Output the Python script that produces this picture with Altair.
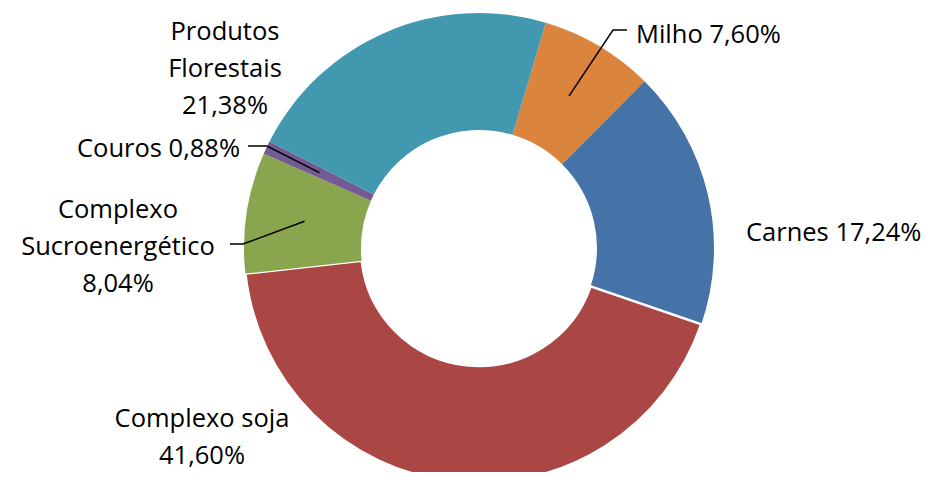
import math
import altair as alt
import pandas as pd

# ---- data ----
categories = ["Milho", "Carnes", "Complexo soja", "Complexo Sucroenergético", "Couros", "Produtos Florestais"]
values = [7.60, 17.24, 41.60, 8.04, 0.88, 21.38]
label_names = ["Milho", "Carnes", "Complexo soja", "Complexo\nSucroenergético", "Couros", "Produtos\nFlorestais"]
label_sep = [" ", " ", "\n", "\n", " ", "\n"]
colors = ["#DB843D", "#4572A7", "#AA4643", "#89A54E", "#735A92", "#4198AF"]

# ---- layout (page pixels) ----
W, H = 914, 464
M = 8
CX, CY = 479, 248
R_OUT, R_IN = 235, 118
START_DEG = 16.5
label_x = [636, 746, 202, 118, 240, 225]
label_y = [42.5, 241, 426.5, 218, 157, 40]
label_align = ["left", "left", "center", "center", "right", "center"]
# leader elbows / ends (None for no leader)
leader_elbow = [(613, 30), None, None, (243, 244), (267, 146), None]
leader_end = [(627, 30), None, None, (230, 244), (248, 146), None]

start = math.radians(START_DEG)
total = sum(values)

df = pd.DataFrame({"cat": categories, "v": values, "i": range(len(values))})

# label table
lab_rows = []
for k, c in enumerate(categories):
    txt = label_names[k] + label_sep[k] + f"{values[k]:.2f}".replace(".", ",") + "%"
    lab_rows.append({"cat": c, "text": txt, "x": label_x[k] - M, "y": label_y[k] - M, "align": label_align[k]})
lab = pd.DataFrame(lab_rows)

# leader lines: start at the ring's mid radius on each slice's mid angle
line_rows = []
cum = 0.0
for k, c in enumerate(categories):
    mid = start + (cum + values[k] / 2) / total * 2 * math.pi
    cum += values[k]
    if leader_elbow[k] is None:
        continue
    rm = (R_OUT + R_IN) / 2
    px = CX + rm * math.sin(mid)
    py = CY - rm * math.cos(mid)
    pts = [(px, py), leader_elbow[k], leader_end[k]]
    for j, (x, y) in enumerate(pts):
        line_rows.append({"cat": c, "step": j, "x": x - M, "y": y - M})
lines = pd.DataFrame(line_rows)

xs = alt.Scale(domain=[0, W], range=[0, W], nice=False, zero=False)
ys = alt.Scale(domain=[0, H], range=[0, H], nice=False, zero=False)

arcs = alt.Chart(df).mark_arc(outerRadius=R_OUT, innerRadius=R_IN, stroke="white").encode(
    theta=alt.Theta("v:Q", stack=True, scale=alt.Scale(range=[start, start + 2 * math.pi])),
    order=alt.Order("i:Q"),
    color=alt.Color("cat:N", scale=alt.Scale(domain=categories, range=colors), legend=None),
    strokeWidth=alt.condition(alt.datum.cat == "Complexo soja", alt.value(2.5), alt.value(0)),
    x=alt.value(CX - M),
    y=alt.value(CY - M),
)

leaders = alt.Chart(lines).mark_line(color="black", strokeWidth=1.5).encode(
    x=alt.X("x:Q", scale=xs, axis=None),
    y=alt.Y("y:Q", scale=ys, axis=None),
    detail="cat:N",
    order="step:Q",
)

texts = []
for al in ["left", "center", "right"]:
    texts.append(
        alt.Chart(lab).transform_filter(alt.datum.align == al).mark_text(
            align=al, baseline="alphabetic", font="Open Sans", fontSize=25.5,
            lineBreak="\n", lineHeight=37, color="black"
        ).encode(
            x=alt.X("x:Q", scale=xs, axis=None),
            y=alt.Y("y:Q", scale=ys, axis=None),
            text="text:N",
        )
    )

chart = alt.layer(arcs, leaders, *texts).properties(
    width=W, height=H, padding=0, background="white",
    autosize=alt.AutoSizeParams(type="none")
).configure_view(stroke=None, strokeWidth=0)

chart.save("out.html", embed_options={"renderer": "svg", "actions": False})
